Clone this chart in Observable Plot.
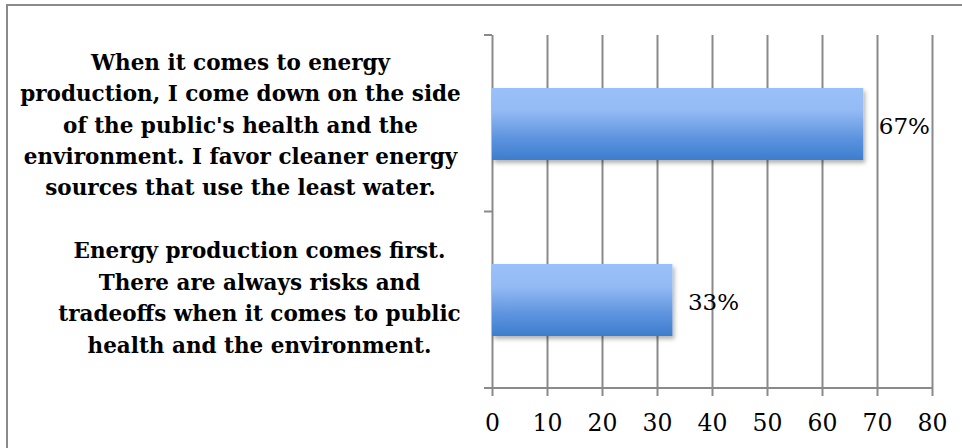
<!DOCTYPE html>
<html>
<head>
<meta charset="utf-8">
<script src="https://cdn.jsdelivr.net/npm/d3@7"></script>
<script src="https://cdn.jsdelivr.net/npm/@observablehq/plot@0.6"></script>
<style>
  html, body { margin: 0; padding: 0; background: #fff; }
  #wrap { position: relative; width: 962px; height: 448px; overflow: hidden; }
  #border { position: absolute; left: 6px; top: 4px; right: -4px; bottom: -4px;
            border-left: 2px solid #8a8a8a; border-top: 2px solid #8a8a8a; }
  #chart { position: absolute; left: 0; top: 0; }
  g[aria-label="bar"] { filter: url(#barShadow); }
</style>
</head>
<body>
<div id="wrap"><div id="border"></div><div id="chart"></div></div>
<script>
// ---- data ----
const categories = [
  "When it comes to energy\nproduction, I come down on the side\nof the public's health and the\nenvironment. I favor cleaner energy\nsources that use the least water.",
  "Energy production comes first.\nThere are always risks and\ntradeoffs when it comes to public\nhealth and the environment."
];
const values = [67.5, 32.8];
const valueLabels = ["67%", "33%"];
const xTicks = [0, 10, 20, 30, 40, 50, 60, 70, 80];

const data = categories.map((c, i) => ({category: c, value: values[i], label: valueLabels[i]}));

const W = 962, H = 448;
const mL = 492, mR = 30, mT = 35, mB = 60;
const grid = "#8a8a8a";
const serif = "'DejaVu Serif', serif";

// defs: gradient + shadow
const defs = () => {
  const ns = "http://www.w3.org/2000/svg";
  const d = document.createElementNS(ns, "defs");
  d.innerHTML = `
    <linearGradient id="barGrad" x1="0" y1="0" x2="0" y2="1">
      <stop offset="0" stop-color="#9ac0fa"/>
      <stop offset="0.30" stop-color="#95bbf5"/>
      <stop offset="0.70" stop-color="#5d93de"/>
      <stop offset="1" stop-color="#3c7dce"/>
    </linearGradient>
    <filter id="barShadow" x="-5%" y="-10%" width="115%" height="140%">
      <feDropShadow dx="2" dy="3" stdDeviation="2" flood-color="#000" flood-opacity="0.3"/>
    </filter>`;
  return d;
};

// category boundary ticks on the left + baseline, from plot dimensions
const boundaryTicks = (index, scales, values, dims) => {
  const ns = "http://www.w3.org/2000/svg";
  const g = document.createElementNS(ns, "g");
  const n = categories.length;
  const top = dims.marginTop, bottom = dims.height - dims.marginBottom;
  const x0 = dims.marginLeft, x1 = dims.width - dims.marginRight;
  for (let k = 0; k <= n; k++) {
    const y = top + (bottom - top) * k / n;
    const l = document.createElementNS(ns, "line");
    l.setAttribute("x1", x0 - 8); l.setAttribute("x2", k === n ? x1 : x0);
    l.setAttribute("y1", y); l.setAttribute("y2", y);
    l.setAttribute("stroke", grid); l.setAttribute("stroke-width", 2);
    g.appendChild(l);
  }
  return g;
};

const yTickFont = {fontSize: 21.5, fontWeight: "bold", fontFamily: serif, fill: "#000"};

const plot = Plot.plot({
  width: W, height: H,
  marginLeft: mL, marginRight: mR, marginTop: mT, marginBottom: mB,
  style: {background: "transparent", overflow: "visible"},
  x: {domain: [0, 80], ticks: xTicks},
  y: {domain: categories, paddingInner: 0.592, paddingOuter: 0.296},
  marks: [
    defs,
    Plot.gridX(xTicks, {stroke: grid, strokeOpacity: 1, strokeWidth: 2}),
    Plot.barX(data, {x: "value", y: "category", fill: "url(#barGrad)"}),
    boundaryTicks,
    Plot.axisX({ticks: xTicks, tickSize: 8, tickPadding: 18, stroke: grid, strokeWidth: 2,
                fontSize: 23.5, fontFamily: serif, fill: "#000", label: null}),
    Plot.axisY({ticks: [categories[0]], tickSize: 0, label: null, textAnchor: "middle",
                dx: -243, dy: -2, lineHeight: 1.46, ...yTickFont}),
    Plot.axisY({ticks: [categories[1]], tickSize: 0, label: null, textAnchor: "middle",
                dx: -224, dy: -5, lineHeight: 1.46, ...yTickFont}),
    Plot.text(data, {x: "value", y: "category", text: "label", textAnchor: "start", dx: 15, dy: 2,
                     fontSize: 23, fontFamily: serif, fill: "#000"})
  ]
});
document.getElementById("chart").appendChild(plot);
</script>
</body>
</html>
